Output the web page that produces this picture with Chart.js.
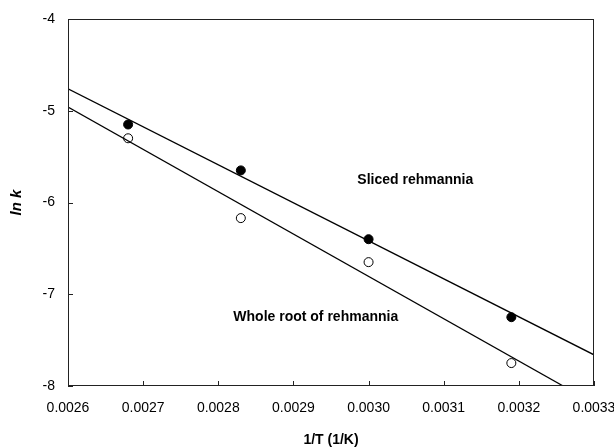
<!DOCTYPE html>
<html>
<head>
<meta charset="utf-8">
<script src="https://cdn.jsdelivr.net/npm/chart.js@4"></script>
<style>
  html, body { margin: 0; padding: 0; background: #fff; }
  #wrap { width: 614px; height: 447px; }
</style>
</head>
<body>
<div id="wrap"><canvas id="myChart" width="614" height="447"></canvas></div>
<script>
// data
const invT = [0.00268, 0.00283, 0.00300, 0.00319];
const sliced = [-5.15, -5.65, -6.40, -7.25];
const whole = [-5.30, -6.17, -6.65, -7.75];

// fitted lines (end points)
const slicedFitX = [0.0026, 0.0033];
const slicedFitY = [-4.76, -7.66];
const wholeFitX = [0.0026, 0.003259];
const wholeFitY = [-4.96, -8.0];

const xTicks = [0.0026, 0.0027, 0.0028, 0.0029, 0.0030, 0.0031, 0.0032, 0.0033];
const yTicks = [-8, -7, -6, -5, -4];

const labels = [
  { text: 'Sliced rehmannia', x: 0.002985, y: -5.76 },
  { text: 'Whole root of rehmannia', x: 0.00282, y: -7.25 },
];

const pts = (xs, ys) => xs.map((x, i) => ({ x: x, y: ys[i] }));

const FONT = '"Liberation Sans", Arial, sans-serif';
const ctx = document.getElementById('myChart');

// frame, inward ticks and text labels
const decor = {
  id: 'decor',
  afterDatasetsDraw(chart) {
    const c = chart.ctx;
    const a = chart.chartArea;
    const xs = chart.scales.x;
    const ys = chart.scales.y;
    c.save();
    c.strokeStyle = '#222';
    c.lineWidth = 1;
    c.strokeRect(a.left + 0.5, a.top + 0.5, a.right - a.left - 1, a.bottom - a.top - 1);
    c.beginPath();
    xTicks.forEach(v => {
      const px = Math.round(xs.getPixelForValue(v)) + 0.5;
      c.moveTo(px, a.bottom);
      c.lineTo(px, a.bottom - 5);
    });
    yTicks.forEach(v => {
      const py = Math.round(ys.getPixelForValue(v)) + 0.5;
      c.moveTo(a.left, py);
      c.lineTo(a.left + 5, py);
    });
    c.stroke();
    c.fillStyle = '#000';
    c.font = 'bold 14px ' + FONT;
    c.textBaseline = 'middle';
    c.textAlign = 'left';
    labels.forEach(l => {
      c.fillText(l.text, xs.getPixelForValue(l.x), ys.getPixelForValue(l.y));
    });
    c.restore();
  }
};

const config = {
  type: 'scatter',
  data: {
    datasets: [
      {
        label: 'Sliced fit',
        type: 'line',
        data: pts(slicedFitX, slicedFitY),
        borderColor: '#000',
        borderWidth: 1.3,
        pointRadius: 0,
        fill: false,
      },
      {
        label: 'Whole fit',
        type: 'line',
        data: pts(wholeFitX, wholeFitY),
        borderColor: '#000',
        borderWidth: 1.3,
        pointRadius: 0,
        fill: false,
      },
      {
        label: 'Sliced rehmannia',
        data: pts(invT, sliced),
        backgroundColor: '#000',
        borderColor: '#000',
        borderWidth: 1,
        pointRadius: 4.5,
      },
      {
        label: 'Whole root of rehmannia',
        data: pts(invT, whole),
        backgroundColor: '#fff',
        borderColor: '#000',
        borderWidth: 1,
        pointRadius: 4.5,
      },
    ],
  },
  options: {
    responsive: false,
    animation: false,
    layout: { padding: { top: 19, right: 20, left: 0, bottom: 0 } },
    plugins: {
      legend: { display: false },
      tooltip: { enabled: false },
    },
    scales: {
      x: {
        type: 'linear',
        position: 'bottom',
        min: 0.0026,
        max: 0.0033,
        afterBuildTicks: s => { s.ticks = xTicks.map(v => ({ value: v })); },
        afterFit: s => { s.height = 61; s.paddingLeft = 0; s.paddingRight = 0; },
        grid: { display: false, drawTicks: false },
        border: { display: false },
        ticks: {
          padding: 14,
          color: '#000',
          font: { family: FONT, size: 14 },
          callback: v => v.toFixed(4),
          maxRotation: 0,
        },
        title: {
          display: true,
          text: '1/T (1/K)',
          color: '#000',
          font: { family: FONT, size: 14, weight: 'bold' },
          padding: { top: 0, bottom: -2 },
        },
      },
      y: {
        min: -8,
        max: -4,
        afterBuildTicks: s => { s.ticks = yTicks.map(v => ({ value: v })); },
        afterFit: s => { s.width = 68; s.paddingTop = 0; s.paddingBottom = 0; },
        grid: { display: false, drawTicks: false },
        border: { display: false },
        ticks: {
          padding: 13,
          color: '#000',
          font: { family: FONT, size: 14 },
          callback: v => String(v),
        },
        title: {
          display: true,
          text: 'ln k',
          color: '#000',
          font: { family: FONT, size: 15, weight: 'bold', style: 'italic' },
          padding: { top: 8, bottom: 0 },
        },
      },
    },
  },
  plugins: [decor],
};

new Chart(ctx, config);
</script>
</body>
</html>
